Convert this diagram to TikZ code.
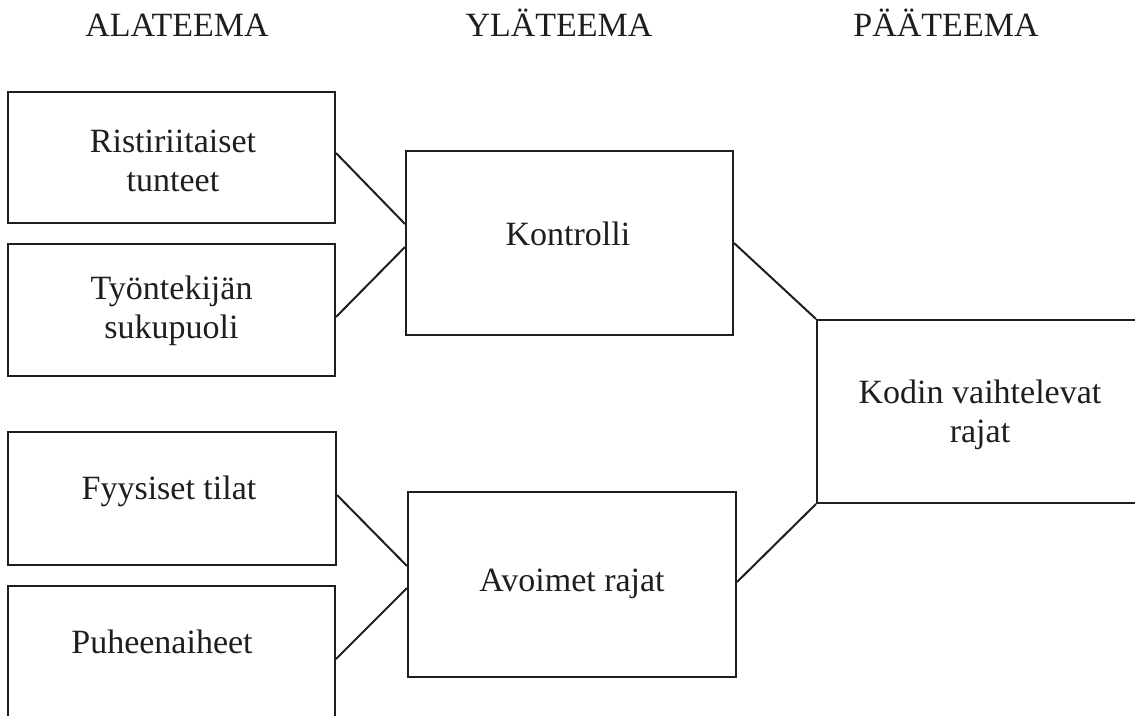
\documentclass[tikz,border=0pt]{standalone}
\usepackage{fontspec}
\setmainfont{Liberation Serif}
\usetikzlibrary{calc}
\definecolor{ink}{HTML}{1E1E1E}
\begin{document}
\begin{tikzpicture}[x=1pt,y=-1pt,
  box/.style={draw=ink, line width=2pt, inner sep=0pt, rectangle},
  lbl/.style={text=ink, inner sep=0pt, anchor=base, align=center, font=\fontsize{34}{39}\selectfont},
  conn/.style={draw=ink, line width=2pt}]
\clip (0,0) rectangle (1135,715);
\fill[white] (0,0) rectangle (1135,715);
% headers
\node[lbl] (h1) at (177,36) {ALATEEMA};
\node[lbl] (h2) at (559,36) {YLÄTEEMA};
\node[lbl] (h3) at (946,36) {PÄÄTEEMA};
% left boxes
\node[box, minimum width=327pt, minimum height=131pt] (b1) at (171.5,157.5) {};
\node[box, minimum width=327pt, minimum height=132pt] (b2) at (171.5,310) {};
\node[box, minimum width=328pt, minimum height=133pt] (b3) at (172,498.5) {};
\node[box, minimum width=327pt, minimum height=200pt] (b4) at (171.5,686) {};
% middle boxes
\node[box, minimum width=327pt, minimum height=184pt] (k) at (569.5,243) {};
\node[box, minimum width=328pt, minimum height=185pt] (a) at (572,584.5) {};
% right box
\node[box, minimum width=400pt, minimum height=183pt] (r) at (1017,411.5) {};
% texts (base = baseline of the last line)
\node[lbl] (t1) at (173,191) {Ristiriitaiset\\tunteet};
\node[lbl] (t2) at (171.5,338) {Työntekijän\\sukupuoli};
\node[lbl] (t3) at (169,499) {Fyysiset tilat};
\node[lbl] (t4) at (162,653) {Puheenaiheet};
\node[lbl] (t5) at (568,245) {Kontrolli};
\node[lbl] (t6) at (572,591) {Avoimet rajat};
\node[lbl] (t7) at (980,442) {Kodin vaihtelevat\\rajat};
% connectors
\draw[conn] ([yshift=4.5pt]b1.east) -- ([yshift=19pt]k.west);
\draw[conn] ([yshift=-7pt]b2.east) -- ([yshift=-4pt]k.west);
\draw[conn] ([yshift=3.5pt]b3.east) -- ([yshift=18.5pt]a.west);
\draw[conn] ([yshift=27pt]b4.east) -- ([yshift=-3.5pt]a.west);
\draw[conn] (k.east) -- (r.north west);
\draw[conn] ([yshift=2.5pt]a.east) -- (r.south west);
\end{tikzpicture}
\end{document}
